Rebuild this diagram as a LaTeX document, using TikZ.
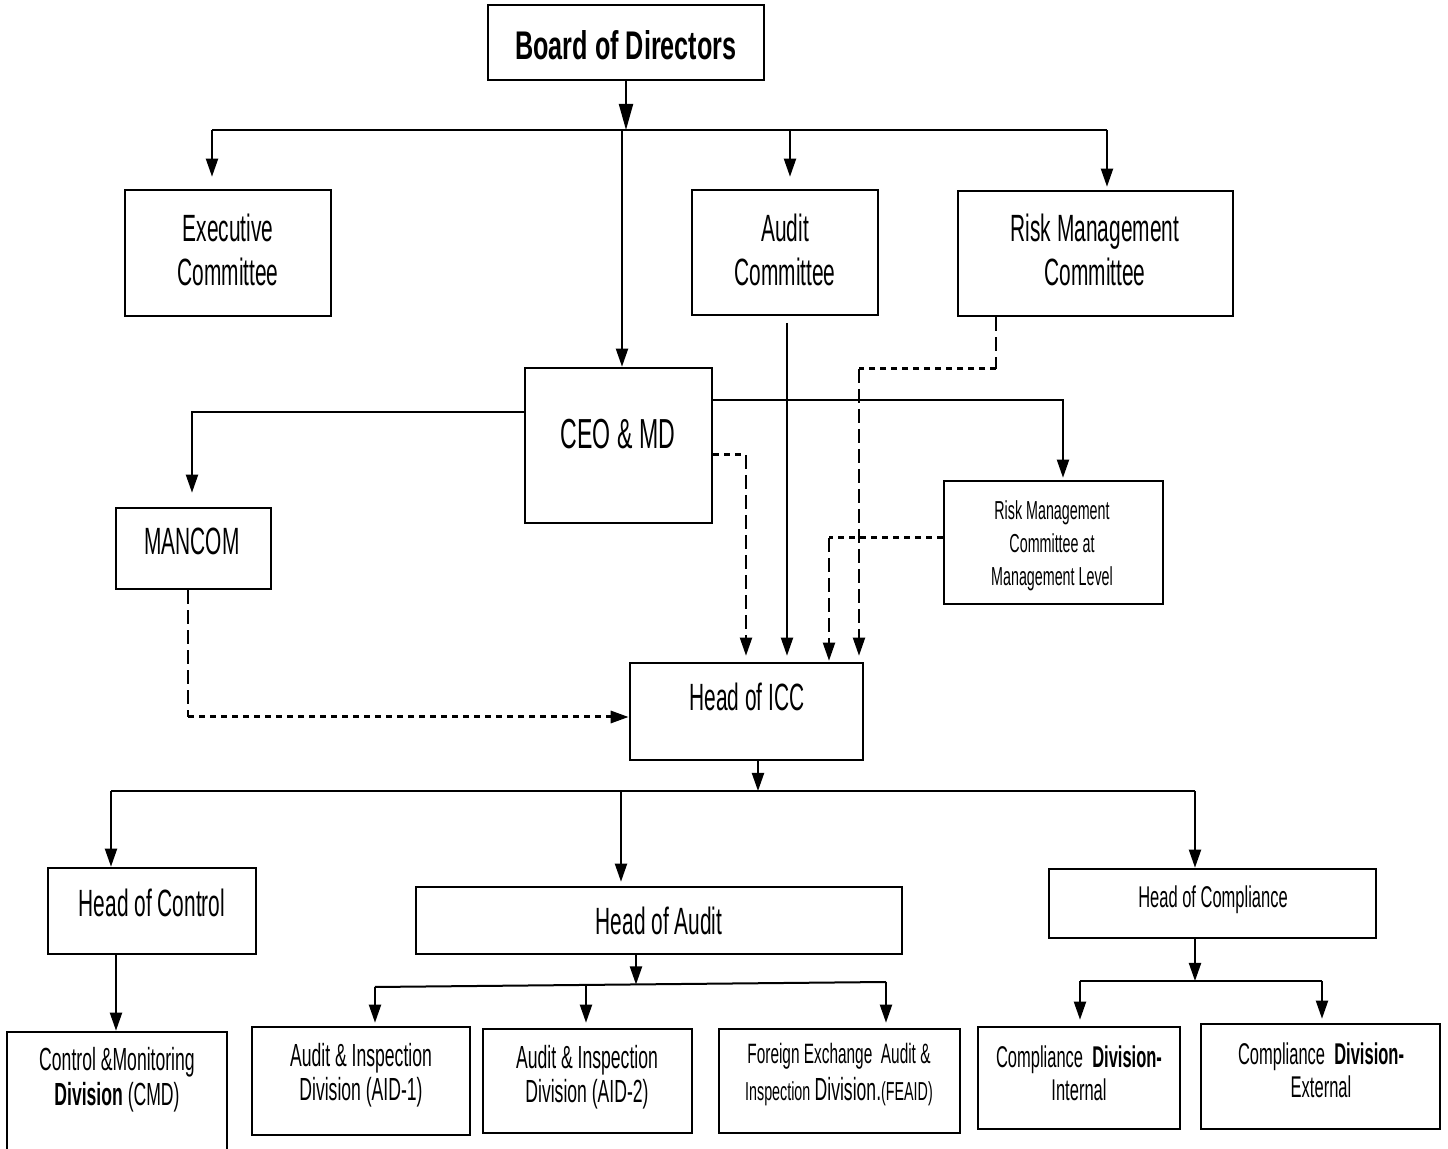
\documentclass[tikz,border=0pt]{standalone}
\usepackage{fontspec}
\usetikzlibrary{arrows.meta,calc}
\newfontfamily\nf[FakeStretch=0.55]{Liberation Sans}
\newfontfamily\nfw[FakeStretch=0.63]{Liberation Sans}
\newcommand\fs[2]{\fontsize{#1}{#2}\selectfont}
\begin{document}
\begin{tikzpicture}[x=0.5pt,y=-0.5pt,
  box/.style={draw,line width=1.3pt,inner sep=0pt,rectangle},
  txt/.style={align=center,inner sep=0pt,font=\nf},
  conn/.style={line width=1pt},
  arr/.style={-{Triangle[length=9pt,width=6pt]}},
  vdash/.style={line width=1pt,dash pattern=on 7pt off 3pt},
  hdot/.style={line width=1.5pt,dash pattern=on 3pt off 2.5pt}]
\useasboundingbox (0,0) rectangle (1448,1149);
\fill[white] (0,0) rectangle (1448,1149);
\clip (0,0) rectangle (1448,1149);

% boxes
\node[box,minimum width=138pt,minimum height=37.5pt] (board) at (626,42.5) {};
\node[box,minimum width=103pt,minimum height=63pt] (exec) at (228,253) {};
\node[box,minimum width=93pt,minimum height=62.5pt] (audc) at (785,252.5) {};
\node[box,minimum width=137.5pt,minimum height=62.5pt] (rmc) at (1095.5,253.5) {};
\node[box,minimum width=93.5pt,minimum height=77.5pt] (ceo) at (618.5,445.5) {};
\node[box,minimum width=77.5pt,minimum height=40.5pt] (mancom) at (193.5,548.5) {};
\node[box,minimum width=109.5pt,minimum height=61.5pt] (rmml) at (1053.5,542.5) {};
\node[box,minimum width=116.5pt,minimum height=48.5pt] (icc) at (746.5,711.5) {};
\node[box,minimum width=104pt,minimum height=43pt] (hctl) at (152,911) {};
\node[box,minimum width=243pt,minimum height=33.5pt] (haud) at (659,920.5) {};
\node[box,minimum width=163.5pt,minimum height=34.5pt] (hcmp) at (1212.5,903.5) {};
\node[box,minimum width=110pt,minimum height=66.5pt] (cmd) at (117,1098.5) {};
\node[box,minimum width=109pt,minimum height=54pt] (aid1) at (361,1081) {};
\node[box,minimum width=104.5pt,minimum height=52pt] (aid2) at (587.5,1081) {};
\node[box,minimum width=120.5pt,minimum height=52pt] (feaid) at (839.5,1081) {};
\node[box,minimum width=101pt,minimum height=51pt] (cdi) at (1079,1078) {};
\node[box,minimum width=119.5pt,minimum height=52.5pt] (cde) at (1320.5,1076.5) {};

% labels
\node[txt,font=\nfw\bfseries\fs{20pt}{24pt}] (board-t) at (626,45) {Board of Directors};
\node[txt,font=\nf\fs{19pt}{22pt}] (exec-t) at (228,250) {Executive\\Committee};
\node[txt,font=\nf\fs{19pt}{22pt}] (audc-t) at (785,250) {Audit\\Committee};
\node[txt,font=\nf\fs{19pt}{22pt}] (rmc-t) at (1095,250) {Risk Management\\Committee};
\node[txt,font=\nf\fs{21pt}{24pt}] (ceo-t) at (618,434) {CEO \& MD};
\node[txt,font=\nf\fs{19pt}{22pt}] (mancom-t) at (192,541) {MANCOM};
\node[txt,font=\nf\fs{13pt}{16.5pt}] (rmml-t) at (1052,546) {Risk Management\\Committee at\\Management Level};
\node[txt,font=\nf\fs{19pt}{22pt}] (icc-t) at (747,697) {Head of ICC};
\node[txt,font=\nf\fs{19pt}{22pt}] (hctl-t) at (152,903) {Head of Control};
\node[txt,font=\nf\fs{19pt}{22pt}] (haud-t) at (659,921) {Head of Audit};
\node[txt,font=\nf\fs{15pt}{18pt}] (hcmp-t) at (1213,900) {Head of Compliance};
\node[txt,font=\nf\fs{16pt}{17.5pt}] (cmd-t) at (117,1080) {Control \&Monitoring\\\textbf{Division} (CMD)};
\node[txt,font=\nf\fs{16pt}{17pt}] (aid1-t) at (361,1075) {Audit \& Inspection\\Division (AID-1)};
\node[txt,font=\nf\fs{16pt}{17pt}] (aid2-t) at (587,1077) {Audit \& Inspection\\Division (AID-2)};
\node[txt,font=\nf\fs{14pt}{18.5pt}] (feaid-t) at (839,1075) {Foreign Exchange\ \ Audit \&\\{\fs{13pt}{18.5pt}Inspection} {\fs{16pt}{18.5pt}Division.}{\fs{13pt}{18.5pt}(FEAID)}};
\node[txt,font=\nf\fs{15pt}{16.5pt}] (cdi-t) at (1079,1073) {Compliance\ \ \textbf{Division-}\\Internal};
\node[txt,font=\nf\fs{15pt}{16.5pt}] (cde-t) at (1321,1070) {Compliance\ \ \textbf{Division-}\\External};

% board level
\coordinate (b1) at (212,130);
\coordinate (b2) at (1107,130);
\coordinate (bA) at (790,130);
\coordinate (bC) at (622,130);
\draw[conn,-{Triangle[length=13pt,width=7pt]}] (board.south) -- (board.south |- b1);
\draw[conn] (b1) -- (b2);
\draw[conn,arr,shorten >=6pt] (b1) -- (b1 |- exec.north);
\draw[conn,arr,shorten >=6pt] (bA) -- (bA |- audc.north);
\draw[conn,arr,shorten >=1.5pt] (b2) -- (b2 |- rmc.north);
\draw[conn,arr] (bC) -- (bC |- ceo.north);

% CEO branches
\coordinate (m1) at (192,412);
\draw[conn,arr,shorten >=7pt] (ceo.west |- m1) -- (m1) -- (m1 |- mancom.north);
\coordinate (r1) at (1063,400);
\draw[conn,arr,shorten >=1pt] (ceo.east |- r1) -- (r1) -- (r1 |- rmml.north);

% into Head of ICC
\coordinate (a1) at (787,323);
\draw[conn,arr,shorten >=3pt] (a1) -- (a1 |- icc.north);
\coordinate (c1) at (746,455);
\draw[hdot] (ceo.east |- c1) -- (c1);
\draw[vdash,arr,shorten >=3pt] (c1) -- (c1 |- icc.north);
\coordinate (k1) at (996,369);
\coordinate (k2) at (859,369);
\draw[vdash] (k1 |- rmc.south) -- (k1);
\draw[hdot] (k1) -- (k2);
\draw[vdash,arr,shorten >=3pt] (k2) -- (k2 |- icc.north);
\coordinate (j1) at (829,538);
\draw[hdot] (rmml.west |- j1) -- (j1);
\draw[vdash,arr,shorten >=0.5pt] (j1) -- (j1 |- icc.north);
\coordinate (d1) at (188,717);
\draw[vdash] (d1 |- mancom.south) -- (d1);
\draw[hdot,arr] (d1) -- (d1 -| icc.west);

% Head of ICC level
\coordinate (e1) at (758,791);
\coordinate (f1) at (111,791);
\coordinate (f2) at (1195,791);
\coordinate (fA) at (621,791);
\draw[conn,arr] (e1 |- icc.south) -- (e1);
\draw[conn] (f1) -- (f2);
\draw[conn,arr] (f1) -- (f1 |- hctl.north);
\draw[conn,arr,shorten >=2pt] (fA) -- (fA |- haud.north);
\draw[conn,arr] (f2) -- (f2 |- hcmp.north);

% control
\coordinate (g1) at (116,1000);
\draw[conn,arr] (g1 |- hctl.south) -- (g1 |- cmd.north);

% audit
\coordinate (hA) at (636,984.5);
\coordinate (h1) at (375,987);
\coordinate (h2) at (586,985.5);
\coordinate (h3) at (886,982);
\draw[conn,arr] (hA |- haud.south) -- (hA);
\draw[conn] (h1) -- (h3);
\draw[conn,arr,shorten >=1.5pt] (h1) -- (h1 |- aid1.north);
\draw[conn,arr,shorten >=2.5pt] (h2) -- (h2 |- aid2.north);
\draw[conn,arr,shorten >=2.5pt] (h3) -- (h3 |- feaid.north);

% compliance
\coordinate (p0) at (1195,981);
\coordinate (p1) at (1080,981);
\coordinate (p2) at (1322,981);
\draw[conn,arr] (p0 |- hcmp.south) -- (p0);
\draw[conn] (p1) -- (p2);
\draw[conn,arr,shorten >=3pt] (p1) -- (p1 |- cdi.north);
\draw[conn,arr,shorten >=2pt] (p2) -- (p2 |- cde.north);
\end{tikzpicture}
\end{document}
